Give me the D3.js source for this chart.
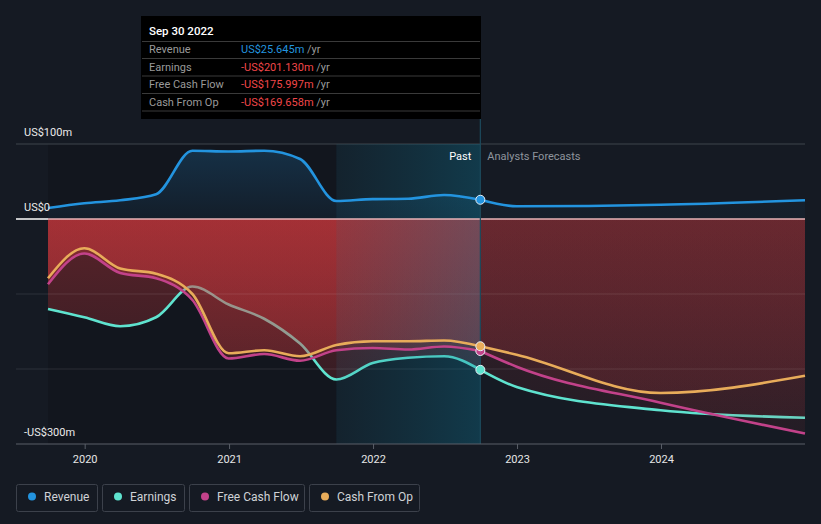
<!DOCTYPE html>
<html><head><meta charset="utf-8">
<script src="https://cdn.jsdelivr.net/npm/d3@7/dist/d3.min.js"></script>
<style>
html,body{margin:0;padding:0;background:#151a23;}
svg{display:block;font-family:Roboto,"Open Sans",sans-serif;}
</style></head>
<body>
<svg id="c" width="821" height="524"></svg>
<script>
// ---- data ----
const pastDates = ["2019-09-30","2019-12-31","2020-03-31","2020-06-30","2020-09-30","2020-12-31","2021-03-31","2021-06-30","2021-09-30","2021-12-31","2022-03-31","2022-06-30","2022-09-30"];
const forecastDates = ["2022-09-30","2022-12-31","2023-12-31","2024-12-31"];
const revenuePast = [14.7, 21, 25, 33, 91, 90, 91, 80, 24, 26.5, 27, 32, 25.645];
const earningsPast = [-120, -131, -143, -131, -90, -114, -133, -166, -214, -192, -185, -183, -201.13];
const fcfPast = [-87, -46, -72, -79, -108, -186, -180, -189, -175, -172, -174, -170, -175.997];
const cfoPast = [-79, -39, -66, -73, -100, -179, -175, -183, -168, -163, -163, -162, -169.658];
const revenueFc = [25.645, 17, 19, 25];
const earningsFc = [-201.13, -224, -255, -265];
const fcfFc = [-175.997, -197, -245, -286];
const cfoFc = [-169.658, -181, -232, -209];
const yTicks = [100, 0, -300];
const yTickLabels = ["US$100m", "US$0", "-US$300m"];
const xTickYears = [2020, 2021, 2022, 2023, 2024];
const legendNames = ["Revenue", "Earnings", "Free Cash Flow", "Cash From Op"];
const colors = ["#2394df", "#5fe3cf", "#c2428a", "#e8ac5a"];
const tooltipDate = "Sep 30 2022";
const tooltipValues = ["US$25.645m", "-US$201.130m", "-US$175.997m", "-US$169.658m"];
const bandStart = "2021-09-30", nowDate = "2022-09-30";

const parse = d3.timeParse("%Y-%m-%d");
const svg = d3.select("#c");
const x = d3.scaleTime().domain([parse("2019-09-30"), parse("2024-12-31")]).range([48, 805]);
const y = d3.scaleLinear().domain([-300, 100]).range([444, 144]);
const defs = svg.append("defs");

function mk(dates, vals){ return dates.map((d,i)=>({t:parse(d), v:vals[i]})); }
const past = [revenuePast, earningsPast, fcfPast, cfoPast].map(v=>mk(pastDates, v));
const fc = [revenueFc, earningsFc, fcfFc, cfoFc].map(v=>mk(forecastDates, v));

// gradients
function vgrad(id, color, o1, o2, y1, y2){
  const g = defs.append("linearGradient").attr("id", id).attr("gradientUnits","userSpaceOnUse")
    .attr("x1",0).attr("x2",0).attr("y1",y1).attr("y2",y2);
  g.append("stop").attr("offset",0).attr("stop-color",color).attr("stop-opacity",o1);
  g.append("stop").attr("offset",1).attr("stop-color",color).attr("stop-opacity",o2);
}
vgrad("redPast", "#d83a3e", 0.36, 0.12, y(0), y(-300));
vgrad("redFc", "#c8383e", 0.19, 0.08, y(0), y(-300));
vgrad("bluePast", "#2394df", 0.22, 0.06, y(100), y(0));
vgrad("blueFc", "#2394df", 0.08, 0.04, y(100), y(0));
const bg = defs.append("linearGradient").attr("id","band").attr("gradientUnits","userSpaceOnUse")
  .attr("x1", x(parse(bandStart))).attr("x2", x(parse(nowDate))).attr("y1",0).attr("y2",0);
bg.append("stop").attr("offset",0).attr("stop-color","#0a6f8c").attr("stop-opacity",0.1);
bg.append("stop").attr("offset",1).attr("stop-color","#0a7fa0").attr("stop-opacity",0.32);

// past darker region
svg.append("rect").attr("x", x(parse("2019-09-30"))).attr("y", y(100)).attr("width", x(parse(bandStart))-x(parse("2019-09-30")))
  .attr("height", y(-300)-y(100)).attr("fill","#000").attr("opacity",0.14);

const area = d3.area().x(d=>x(d.t)).y0(y(0)).y1(d=>y(d.v)).curve(d3.curveMonotoneX);
const line = d3.line().x(d=>x(d.t)).y(d=>y(d.v)).curve(d3.curveMonotoneX);

// areas
svg.append("path").attr("d", area(past[0])).attr("fill","url(#bluePast)");
svg.append("path").attr("d", area(fc[0])).attr("fill","url(#blueFc)");
// earnings area & line first (so cash-flow areas tint it)
svg.append("path").attr("d", area(past[1])).attr("fill","url(#redPast)");
svg.append("path").attr("d", area(fc[1])).attr("fill","url(#redFc)");
svg.append("path").attr("d", line(past[1])).attr("fill","none").attr("stroke",colors[1]).attr("stroke-width",2.6);
svg.append("path").attr("d", line(fc[1])).attr("fill","none").attr("stroke",colors[1]).attr("stroke-width",2.6);
[2,3].forEach(i=>{
  svg.append("path").attr("d", area(past[i])).attr("fill","url(#redPast)");
  svg.append("path").attr("d", area(fc[i])).attr("fill","url(#redFc)");
});

// gridlines
[-100,-200].forEach(v=>{
  svg.append("line").attr("x1",16).attr("x2",805).attr("y1",y(v)).attr("y2",y(v))
    .attr("stroke","#ffffff").attr("stroke-opacity",0.1).attr("stroke-width",1);
});
svg.append("line").attr("x1",16).attr("x2",805).attr("y1",y(100)).attr("y2",y(100))
  .attr("stroke","#3f444d").attr("stroke-width",1);

// band overlay
svg.append("rect").attr("x", x(parse(bandStart))).attr("y", y(100)).attr("width", x(parse(nowDate))-x(parse(bandStart)))
  .attr("height", y(-300)-y(100)).attr("fill","url(#band)");

// zero line
svg.append("line").attr("x1",16).attr("x2",x(parse("2019-09-30"))).attr("y1",y(0)).attr("y2",y(0)).attr("stroke","#ffffff").attr("stroke-width",1.5);
svg.append("line").attr("x1",x(parse("2019-09-30"))).attr("x2",805).attr("y1",y(0)).attr("y2",y(0)).attr("stroke","#e9b5b9").attr("stroke-width",1.5);

// now line
svg.append("line").attr("x1",x(parse(nowDate))).attr("x2",x(parse(nowDate))).attr("y1",119).attr("y2",y(-300))
  .attr("stroke","#1c4a5c").attr("stroke-width",1.2);

// lines
[2,3,0].forEach(i=>{
  svg.append("path").attr("d", line(past[i])).attr("fill","none").attr("stroke",colors[i]).attr("stroke-width",2.6);
  svg.append("path").attr("d", line(fc[i])).attr("fill","none").attr("stroke",colors[i]).attr("stroke-width",2.6);
});

// dots at now
[0,1,2,3].forEach(i=>{
  const d = past[i][past[i].length-1];
  svg.append("circle").attr("cx",x(d.t)).attr("cy",y(d.v)).attr("r",4.5)
    .attr("fill",colors[i]).attr("stroke","#e8eef5").attr("stroke-width",1);
});

// axes
const xAxis = d3.axisBottom(x).tickValues(xTickYears.map(yr=>new Date(yr,0,1))).tickFormat(d3.timeFormat("%Y")).tickSize(5).tickPadding(6);
const gx = svg.append("g").attr("transform",`translate(0,${y(-300)})`).call(xAxis);
gx.select(".domain").remove();
gx.selectAll(".tick line").attr("stroke","#5a5f68");
gx.selectAll(".tick text").attr("fill","#e6e6e6").attr("font-size",11).attr("font-family","Roboto, sans-serif");
svg.append("line").attr("x1",16).attr("x2",805).attr("y1",y(-300)).attr("y2",y(-300)).attr("stroke","#5a5f68").attr("stroke-width",1);

yTicks.forEach((v,i)=>{
  svg.append("text").attr("x",24).attr("y",y(v)-8).text(yTickLabels[i])
    .attr("fill","#eaeaea").attr("font-size",11);
});

// Past / Analysts Forecasts
svg.append("text").attr("x",x(parse(nowDate))-9).attr("y",160).attr("text-anchor","end").text("Past").attr("fill","#ffffff").attr("font-size",11);
svg.append("text").attr("x",x(parse(nowDate))+7).attr("y",160).text("Analysts Forecasts").attr("fill","#8f959d").attr("font-size",11);

// tooltip
const tt = svg.append("g");
tt.append("rect").attr("x",141).attr("y",16).attr("width",340).attr("height",103).attr("fill","#000");
tt.append("text").attr("x",149).attr("y",35).text(tooltipDate).attr("fill","#ffffff").attr("font-size",11.5).attr("font-weight",500);
[41.5,58.5,76,93.5,111].forEach(yy=>{
  tt.append("line").attr("x1",142).attr("x2",480).attr("y1",yy).attr("y2",yy).attr("stroke","#3a3a3a").attr("stroke-width",1);
});
const rowY = [53, 70.5, 88, 105.5];
legendNames.forEach((n,i)=>{
  tt.append("text").attr("x",149).attr("y",rowY[i]).text(n).attr("fill","#9a9a9a").attr("font-size",11);
  const t = tt.append("text").attr("x",241).attr("y",rowY[i]).attr("font-size",11);
  t.append("tspan").text(tooltipValues[i]).attr("fill", i===0 ? colors[0] : "#f0474a");
  t.append("tspan").text(" /yr").attr("fill","#9a9a9a");
});

// legend
const legX = [16, 102, 189, 309], legW = [81, 82, 115, 110];
legendNames.forEach((n,i)=>{
  const g = svg.append("g").attr("transform",`translate(${legX[i]},484)`);
  g.append("rect").attr("x",0.5).attr("y",0.5).attr("width",legW[i]).attr("height",27).attr("rx",2)
    .attr("fill","none").attr("stroke","#3c414b").attr("stroke-width",1);
  g.append("circle").attr("cx",16).attr("cy",12.5).attr("r",4).attr("fill",colors[i]);
  g.append("text").attr("x",28).attr("y",16.5).text(n).attr("fill","#cfd2d6").attr("font-size",12);
});
</script>
</body></html>
